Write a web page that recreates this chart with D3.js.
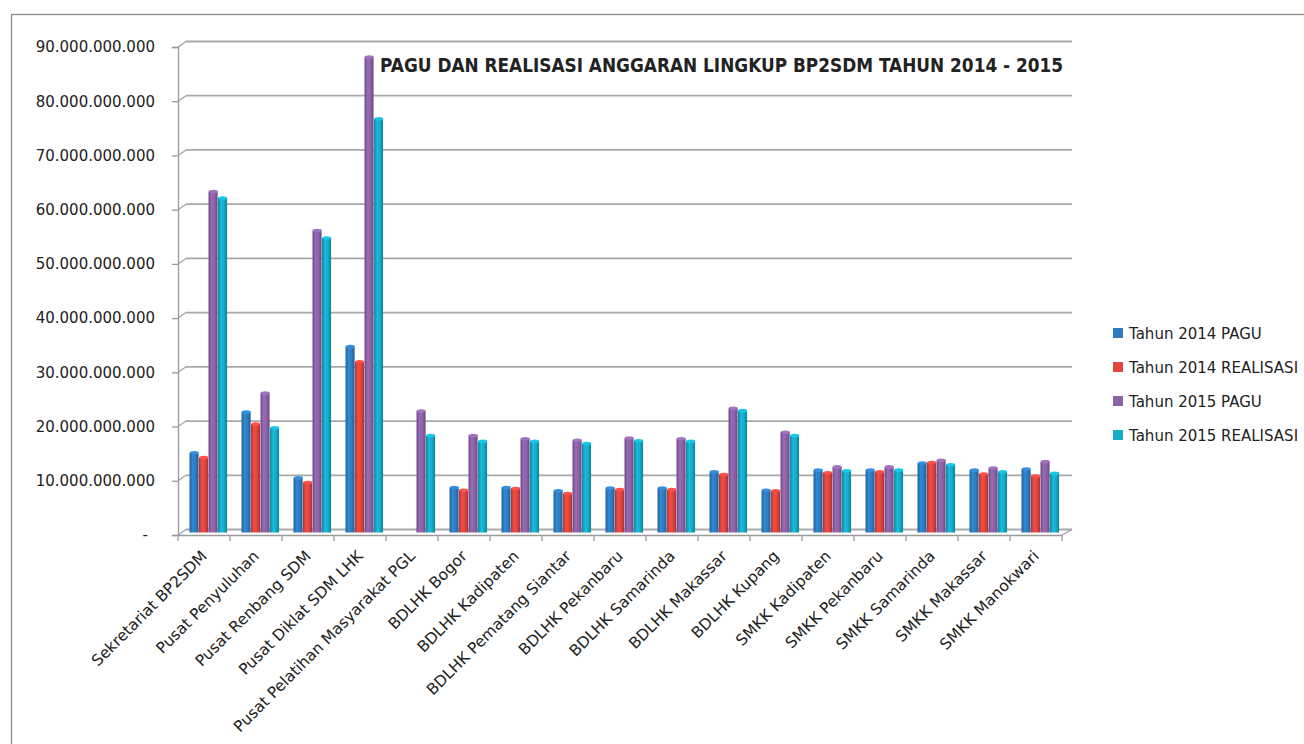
<!DOCTYPE html>
<html>
<head>
<meta charset="utf-8">
<script src="https://cdn.jsdelivr.net/npm/d3@7/dist/d3.min.js"></script>
<style>
  html, body { margin: 0; padding: 0; background: #fff; }
  #chart { width: 1304px; height: 744px; overflow: hidden; }
  text { font-family: "DejaVu Sans", sans-serif; fill: #222; }
</style>
</head>
<body>
<div id="chart"></div>
<script>
// data (rupiah)
const categories = [
  'Sekretariat BP2SDM', 'Pusat Penyuluhan', 'Pusat Renbang SDM', 'Pusat Diklat SDM LHK',
  'Pusat Pelatihan Masyarakat PGL', 'BDLHK Bogor', 'BDLHK Kadipaten', 'BDLHK Pematang Siantar',
  'BDLHK Pekanbaru', 'BDLHK Samarinda', 'BDLHK Makassar', 'BDLHK Kupang',
  'SMKK Kadipaten', 'SMKK Pekanbaru', 'SMKK Samarinda', 'SMKK Makassar', 'SMKK Manokwari'
];
const seriesNames = ['Tahun 2014 PAGU', 'Tahun 2014 REALISASI', 'Tahun 2015 PAGU', 'Tahun 2015 REALISASI'];
const pagu2014      = [14.7, 22.2, 10.1, 34.3, 0, 8.3, 8.3, 7.7, 8.2, 8.2, 11.2, 7.8, 11.5, 11.5, 12.8, 11.5, 11.7];
const realisasi2014 = [13.8, 20.0, 9.2, 31.5, 0, 7.8, 8.1, 7.2, 7.9, 7.9, 10.7, 7.7, 11.0, 11.2, 12.9, 10.8, 10.4];
const pagu2015      = [62.9, 25.7, 55.7, 87.7, 22.4, 17.9, 17.3, 17.0, 17.4, 17.3, 22.9, 18.5, 12.1, 12.1, 13.3, 11.9, 13.1];
const realisasi2015 = [61.7, 19.3, 54.3, 76.3, 17.9, 16.8, 16.8, 16.4, 16.9, 16.8, 22.5, 17.9, 11.4, 11.5, 12.5, 11.2, 10.9];
const yTicks = [0, 10e9, 20e9, 30e9, 40e9, 50e9, 60e9, 70e9, 80e9, 90e9];
const colors = ['#2d7cc2', '#e2453f', '#8c62a8', '#16acc9'];
const title = 'PAGU DAN REALISASI ANGGARAN LINGKUP BP2SDM TAHUN 2014 - 2015';

const values = [pagu2014, realisasi2014, pagu2015, realisasi2015];
const billion = 1e9;

const W = 1304, H = 744;
const plot = { left: 178, right: 1062, top: 47, bottom: 535 };
const depth = { dx: 8, dy: -5.5 };   // 3d wall offset
const barShift = { dx: 4.5, dy: -2.5 };

const svg = d3.select('#chart').append('svg')
  .attr('width', W).attr('height', H);

// outer frame
svg.append('rect')
  .attr('x', 11.5).attr('y', 14.5)
  .attr('width', 1320).attr('height', 760)
  .attr('fill', 'none').attr('stroke', '#8a8a8a').attr('stroke-width', 1.3);

const y = d3.scaleLinear().domain([0, 90e9]).range([plot.bottom, plot.top]);
const x0 = d3.scaleBand().domain(categories).range([plot.left, plot.right]);
const x1 = d3.scaleBand().domain(seriesNames).range([0, x0.bandwidth()]).paddingOuter(0.74);

const locale = d3.formatLocale({ decimal: ',', thousands: '.', grouping: [3], currency: ['', ''] });
const fmt = locale.format(',');

// back wall gridlines
svg.append('g')
  .selectAll('line')
  .data(yTicks)
  .enter()
  .append('line')
  .attr('x1', plot.left + depth.dx)
  .attr('x2', plot.right + depth.dx + 2)
  .attr('y1', d => y(d) + depth.dy)
  .attr('y2', d => y(d) + depth.dy)
  .attr('stroke', '#a8a8a8')
  .attr('stroke-width', 1.8);

// little diagonals from axis ticks to the wall
svg.append('g')
  .selectAll('line')
  .data(yTicks)
  .enter()
  .append('line')
  .attr('x1', plot.left).attr('y1', d => y(d))
  .attr('x2', plot.left + depth.dx).attr('y2', d => y(d) + depth.dy)
  .attr('stroke', '#a0a0a0').attr('stroke-width', 1.2);

// floor: right diagonal
svg.append('line')
  .attr('x1', plot.right).attr('y1', y(0))
  .attr('x2', plot.right + depth.dx + 2).attr('y2', y(0) + depth.dy)
  .attr('stroke', '#a0a0a0').attr('stroke-width', 1.4);

// y axis
const yAxis = svg.append('g')
  .attr('transform', `translate(${plot.left},0)`)
  .call(d3.axisLeft(y).tickValues(yTicks).tickSize(6).tickPadding(17)
    .tickFormat(d => d === 0 ? '-' : fmt(d)));
yAxis.select('.domain').attr('stroke', '#9a9a9a').attr('stroke-width', 1.3);
yAxis.selectAll('.tick line').attr('stroke', '#9a9a9a').attr('stroke-width', 1.3);
yAxis.selectAll('text')
  .attr('font-size', '15px')
  .attr('font-family', 'DejaVu Sans')
  .attr('fill', '#222')
  .attr('dx', d => d === 0 ? -7 : 0);

// x axis
const xAxis = svg.append('g')
  .attr('transform', `translate(0,${plot.bottom})`)
  .call(d3.axisBottom(x0).tickSize(0).tickSizeOuter(0));
xAxis.select('.domain').attr('stroke', '#9a9a9a').attr('stroke-width', 1.4);
xAxis.selectAll('text')
  .attr('font-size', '15.5px')
  .attr('font-family', 'DejaVu Sans')
  .attr('fill', '#222')
  .attr('x', 4).attr('y', 22).attr('dy', 0)
  .attr('text-anchor', 'end')
  .attr('transform', 'rotate(-45,4,22)');

// band boundary ticks
const bounds = categories.map(c => x0(c)).concat([x0.range()[1]]);
svg.append('g')
  .selectAll('line')
  .data(bounds)
  .enter()
  .append('line')
  .attr('x1', d => d).attr('x2', d => d)
  .attr('y1', plot.bottom).attr('y2', plot.bottom + 6)
  .attr('stroke', '#9a9a9a').attr('stroke-width', 1.3);

// cylinder-ish gradients
const defs = svg.append('defs');
colors.forEach((c, i) => {
  const g = defs.append('linearGradient').attr('id', 'bar' + i)
    .attr('x1', 0).attr('x2', 1).attr('y1', 0).attr('y2', 0);
  const base = d3.color(c);
  g.append('stop').attr('offset', '0%').attr('stop-color', base.darker(0.7));
  g.append('stop').attr('offset', '35%').attr('stop-color', base.brighter(0.25));
  g.append('stop').attr('offset', '65%').attr('stop-color', base);
  g.append('stop').attr('offset', '100%').attr('stop-color', base.darker(0.8));
});

// bars
const rows = [];
categories.forEach((c, ci) => {
  seriesNames.forEach((s, si) => {
    rows.push({ cat: c, series: s, si: si, value: values[si][ci] * billion });
  });
});

const bw = x1.bandwidth();
const bars = svg.append('g')
  .attr('transform', `translate(${barShift.dx},${barShift.dy})`)
  .selectAll('g')
  .data(rows.filter(d => d.value > 0))
  .enter()
  .append('g');

bars.append('rect')
  .attr('x', d => x0(d.cat) + x1(d.series))
  .attr('y', d => y(d.value))
  .attr('width', bw - 0.4)
  .attr('height', d => y(0) - y(d.value))
  .attr('fill', d => `url(#bar${d.si})`);

bars.append('ellipse')
  .attr('cx', d => x0(d.cat) + x1(d.series) + bw / 2)
  .attr('cy', d => y(d.value))
  .attr('rx', bw / 2 - 0.2)
  .attr('ry', 1.8)
  .attr('fill', d => d3.color(colors[d.si]).brighter(0.4));

bars.append('title')
  .text(d => d.series + ' : ' + fmt(d.value));

// title
svg.append('text')
  .attr('x', 380).attr('y', 71.5)
  .attr('font-family', 'Open Sans')
  .attr('font-weight', 'bold')
  .attr('font-size', '19.5px')
  .attr('textLength', 683)
  .attr('lengthAdjust', 'spacingAndGlyphs')
  .attr('fill', '#111')
  .text(title);

// legend
const legend = svg.append('g')
  .attr('transform', 'translate(1113,333)')
  .selectAll('g')
  .data(seriesNames)
  .enter()
  .append('g')
  .attr('transform', (d, i) => `translate(0,${i * 34})`);

legend.append('rect')
  .attr('x', 0).attr('y', -5)
  .attr('width', 10).attr('height', 10)
  .attr('fill', (d, i) => colors[i]);

legend.append('text')
  .attr('x', 16).attr('y', 5.5)
  .attr('font-size', '15px')
  .text(d => d);
</script>
</body>
</html>
